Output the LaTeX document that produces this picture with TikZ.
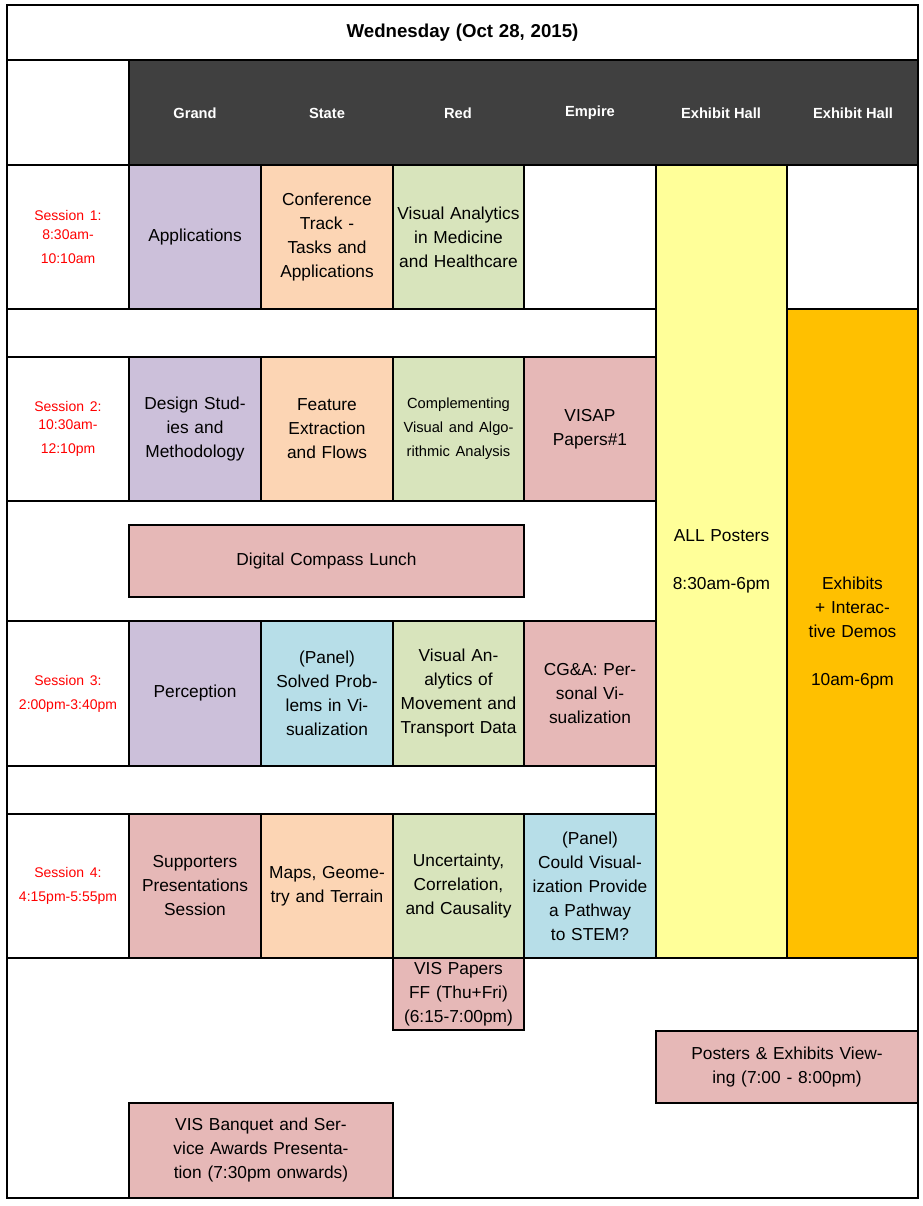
\documentclass[tikz,border=0pt]{standalone}
\usepackage{fontspec}
\setmainfont{Liberation Sans}
\definecolor{cpur}{HTML}{CCC0DA}
\definecolor{cpea}{HTML}{FCD5B4}
\definecolor{cgre}{HTML}{D8E4BC}
\definecolor{cpin}{HTML}{E6B8B7}
\definecolor{cblu}{HTML}{B7DEE8}
\definecolor{cyel}{HTML}{FFFF99}
\definecolor{cora}{HTML}{FFC000}
\definecolor{cdark}{HTML}{404040}
\tikzset{cell/.style={draw=black,line width=0.8pt,rectangle,inner sep=0pt,outer sep=0pt,align=center,font=\fontsize{13}{18}\selectfont},
 lab/.style={align=center,text=red,font=\fontsize{10.5}{14}\selectfont},
 hdr/.style={text=white,font=\bfseries\fontsize{11}{13}\selectfont}}
\newcommand\cellbox[7]{\node[cell,fill=#6,minimum width={(#4-#2)*0.75pt},minimum height={(#5-#3)*0.75pt},text width={(#4-#2-6)*0.75pt}] (#1) at ({(#2+#4)/2},{(#3+#5)/2}) {#7};}
\begin{document}
\begin{tikzpicture}[x=0.75pt,y=-0.75pt]
\useasboundingbox (0,0) rectangle (923,1206);
\fill[white] (0,0) rectangle (923,1206);
% title
\cellbox{title}{7}{5}{918}{60}{white}{\bfseries\fontsize{14}{16}\selectfont Wednesday (Oct 28, 2015)}
\cellbox{corner}{7}{60}{129}{165}{white}{}
\cellbox{hdr}{129}{60}{918}{165}{cdark}{}
\node[hdr] (h1) at (195,113) {Grand};
\node[hdr] (h2) at (327,113) {State};
\node[hdr] (h3) at (458,113) {Red};
\node[hdr] (h4) at (590,113) {Empire};
\node[hdr] (h5) at (721,113) {Exhibit Hall};
\node[hdr] (h6) at (853,113) {Exhibit Hall};
% label column and gap rows
\cellbox{l1}{7}{165}{129}{309}{white}{\color{red}\fontsize{10.5}{14}\selectfont Session 1:\\8:30am-\\10:10am}
\cellbox{g1}{7}{309}{656}{357}{white}{}
\cellbox{l2}{7}{357}{129}{501}{white}{\color{red}\fontsize{10.5}{14}\selectfont Session 2:\\10:30am-\\12:10pm}
\cellbox{g2}{7}{501}{656}{621}{white}{}
\cellbox{l3}{7}{621}{129}{766}{white}{\color{red}\fontsize{10.5}{14}\selectfont Session 3:\\2:00pm-3:40pm}
\cellbox{g3}{7}{766}{656}{814}{white}{}
\cellbox{l4}{7}{814}{129}{958}{white}{\color{red}\fontsize{10.5}{14}\selectfont Session 4:\\4:15pm-5:55pm}
% session 1
\cellbox{a1}{129}{165}{261}{309}{cpur}{Applications}
\cellbox{a2}{261}{165}{393}{309}{cpea}{Conference Track - Tasks and Applications}
\cellbox{a3}{393}{165}{524}{309}{cgre}{Visual Analytics in Medicine and Healthcare}
% session 2
\cellbox{b1}{129}{357}{261}{501}{cpur}{Design Studies and Methodology}
\cellbox{b2}{261}{357}{393}{501}{cpea}{Feature Extraction and Flows}
\cellbox{b3}{393}{357}{524}{501}{cgre}{\fontsize{11}{19}\selectfont Complementing Visual and Algorithmic Analysis}
\cellbox{b4}{524}{357}{656}{501}{cpin}{VISAP\\Papers\#1}
% lunch
\cellbox{lunch}{129}{525}{524}{597}{cpin}{Digital Compass Lunch}
% session 3
\cellbox{c1}{129}{621}{261}{766}{cpur}{Perception}
\cellbox{c2}{261}{621}{393}{766}{cblu}{(Panel)\\Solved Problems in Visualization}
\cellbox{c3}{393}{621}{524}{766}{cgre}{Visual Analytics of Movement and Transport Data}
\cellbox{c4}{524}{621}{656}{766}{cpin}{CG\&A: Personal Visualization}
% session 4
\cellbox{d1}{129}{814}{261}{958}{cpin}{Supporters Presentations Session}
\cellbox{d2}{261}{814}{393}{958}{cpea}{Maps, Geometry and Terrain}
\cellbox{d3}{393}{814}{524}{958}{cgre}{Uncertainty, Correlation, and Causality}
\cellbox{d4}{524}{814}{656}{958}{cblu}{(Panel)\\Could Visualization Provide a Pathway to STEM?}
% posters & exhibits
\cellbox{post}{656}{165}{787}{958}{cyel}{ALL Posters\\[18pt]8:30am-6pm}
\cellbox{exh}{787}{309}{918}{958}{cora}{Exhibits\\+ Interactive Demos\\[18pt]10am-6pm}
% evening
\draw[line width=1.6pt] (7,958) -- (918,958);
\cellbox{ff}{393}{958}{524}{1030}{cpin}{VIS Papers FF (Thu+Fri) (6:15-7:00pm)}
\cellbox{view}{656}{1031}{918}{1103}{cpin}{Posters \& Exhibits Viewing (7:00 - 8:00pm)}
\cellbox{banq}{129}{1103}{393}{1198}{cpin}{VIS Banquet and Service Awards Presentation (7:30pm onwards)}
\draw[line width=0.8pt] (7,5) rectangle (918,1198);
\end{tikzpicture}
\end{document}
